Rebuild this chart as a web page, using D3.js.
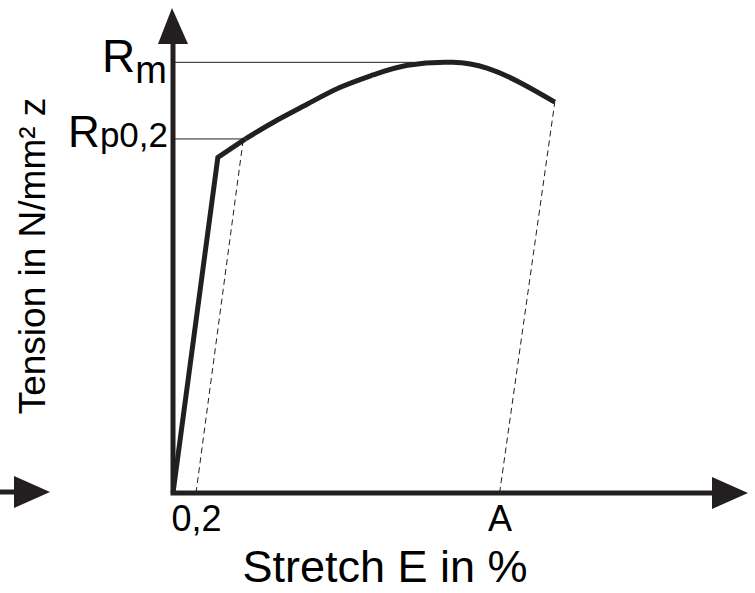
<!DOCTYPE html>
<html>
  <head>
    <meta charset="UTF-8">
    <script src="https://cdn.jsdelivr.net/npm/d3@7"></script>
    <style type="text/css">
    body { margin: 0; background: #fff; }
    svg text { font-family: "Liberation Sans", Arial, sans-serif; fill: #000; }
    .axis-line { stroke: #231f20; stroke-width: 5; fill: none; }
    .arrow { fill: #231f20; stroke: none; }
    .curve { stroke: #231f20; stroke-width: 5; fill: none; stroke-linejoin: miter; }
    .guide { stroke: #231f20; stroke-width: 1; fill: none; }
    .offset { stroke: #231f20; stroke-width: 1; stroke-dasharray: 6,4; fill: none; }
    </style>
  </head>
  <body>
    <script type="text/javascript">

      var width = 755;
      var height = 593;

      // strain in %, stress in N/mm²
      var elasticStrain = [0, 0.39, 0.63];
      var elasticStress = [0, 346, 365];
      var plasticStrain = [0.63, 0.87, 1.17, 1.45, 1.74, 2.04, 2.43, 2.73, 3.02, 3.32];
      var plasticStress = [365, 382, 401, 418, 431, 441, 444, 438, 423, 403];

      var Rp = 365;   // Rp0,2
      var Rm = 444;   // tensile strength
      var offsetStrain = 0.2;
      var breakStrain = 2.84;  // A
      var tickLabels = ["0,2", "A"];

      var svg = d3.select("body").append("svg")
        .attr("width", width)
        .attr("height", height);

      var x = d3.scaleLinear().domain([0, 5]).range([173, 748]);
      var y = d3.scaleLinear().domain([0, 500]).range([493, 8]);

      var ox = x(0), oy = y(0);

      /* stray arrow on the left edge */
      svg.append("line")
        .attr("class", "axis-line")
        .attr("x1", 0).attr("y1", oy - 1)
        .attr("x2", 16).attr("y2", oy - 1);
      svg.append("path")
        .attr("class", "arrow")
        .attr("d", "M14," + (oy - 17) + " L50," + (oy - 1) + " L14," + (oy + 15) + "Z");

      /* axes */
      svg.append("path")
        .attr("class", "axis-line")
        .attr("d", "M" + ox + "," + (y(500) + 35) + " L" + ox + "," + oy + " L" + (x(5) - 34) + "," + oy);

      svg.append("path")
        .attr("class", "arrow")
        .attr("d", "M" + (ox - 15) + "," + (y(500) + 36) + " L" + (ox - 1) + "," + y(500) + " L" + (ox + 15) + "," + (y(500) + 36) + "Z");

      svg.append("path")
        .attr("class", "arrow")
        .attr("d", "M" + (x(5) - 36) + "," + (oy - 16) + " L" + x(5) + "," + oy + " L" + (x(5) - 36) + "," + (oy + 16) + "Z");

      /* Rm / Rp guide lines */
      svg.append("line")
        .attr("class", "guide")
        .attr("x1", ox).attr("y1", y(Rm))
        .attr("x2", x(2.09)).attr("y2", y(Rm));
      svg.append("line")
        .attr("class", "guide")
        .attr("x1", ox).attr("y1", y(Rp))
        .attr("x2", x(elasticStrain[2])).attr("y2", y(Rp));

      /* offset lines parallel to the elastic slope */
      var slope = elasticStress[1] / elasticStrain[1];
      svg.append("line")
        .attr("class", "offset")
        .attr("x1", x(offsetStrain)).attr("y1", oy)
        .attr("x2", x(offsetStrain + Rp / slope)).attr("y2", y(Rp));
      var endStrain = plasticStrain[plasticStrain.length - 1];
      var endStress = plasticStress[plasticStress.length - 1];
      svg.append("line")
        .attr("class", "offset")
        .attr("x1", x(breakStrain)).attr("y1", oy)
        .attr("x2", x(endStrain)).attr("y2", y(endStress));

      /* stress-strain curve */
      var lin = d3.line()
        .x(function(d) { return x(d[0]); })
        .y(function(d) { return y(d[1]); });
      var smooth = d3.line()
        .x(function(d) { return x(d[0]); })
        .y(function(d) { return y(d[1]); })
        .curve(d3.curveNatural);

      svg.append("path")
        .attr("class", "curve")
        .attr("d", lin(d3.zip(elasticStrain, elasticStress)));
      svg.append("path")
        .attr("class", "curve")
        .attr("d", smooth(d3.zip(plasticStrain, plasticStress)));

      /* x tick labels */
      var xAxis = d3.axisBottom(x)
        .tickValues([offsetStrain, breakStrain])
        .tickSize(0)
        .tickPadding(12)
        .tickFormat(function(d, i) { return tickLabels[i]; });
      var gx = svg.append("g")
        .attr("transform", "translate(0," + oy + ")")
        .call(xAxis);
      gx.select(".domain").remove();
      gx.selectAll("text")
        .attr("font-size", 36)
        .attr("font-family", "Liberation Sans, Arial, sans-serif")
        .attr("fill", "#000");

      /* y labels */
      var rm = svg.append("text")
        .attr("x", 167).attr("y", y(Rm) + 10)
        .attr("text-anchor", "end");
      rm.append("tspan").attr("font-size", 46).text("R");
      rm.append("tspan").attr("font-size", 38).attr("dy", 11).text("m");

      var rp = svg.append("text")
        .attr("x", 168).attr("y", y(Rp) + 8)
        .attr("text-anchor", "end");
      rp.append("tspan").attr("font-size", 44).text("R");
      rp.append("tspan").attr("font-size", 35).text("p0,2");

      /* axis titles */
      svg.append("text")
        .attr("x", 385).attr("y", 582)
        .attr("text-anchor", "middle")
        .attr("font-size", 45)
        .text("Stretch E in %");

      svg.append("text")
        .attr("transform", "translate(45,256) rotate(-90)")
        .attr("text-anchor", "middle")
        .attr("font-size", 37)
        .text("Tension in N/mm² z");

    </script>
  </body>
</html>
